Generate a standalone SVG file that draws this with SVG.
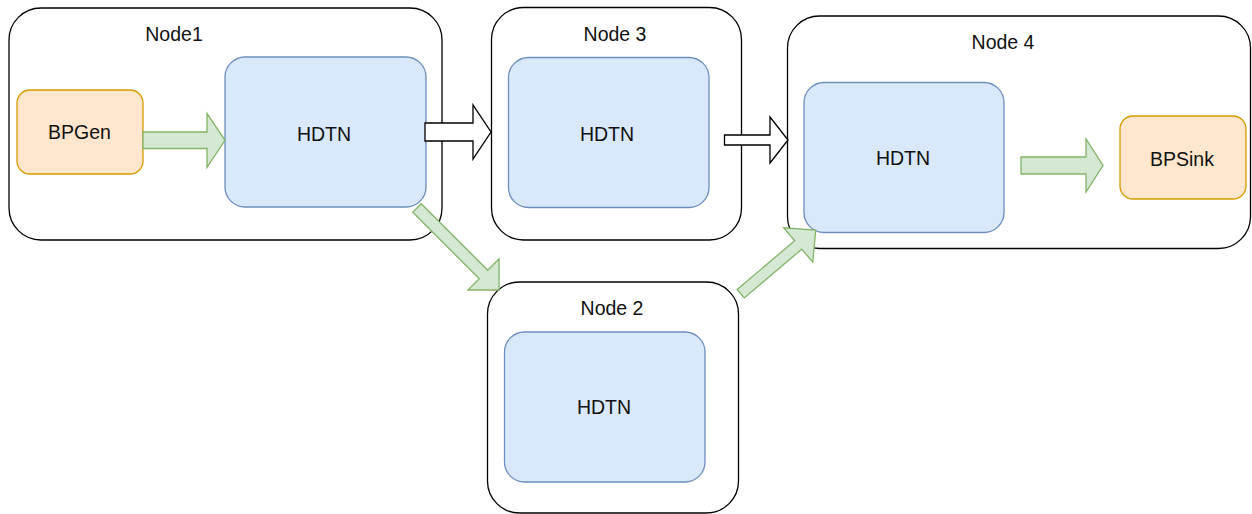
<svg xmlns="http://www.w3.org/2000/svg" width="1252" height="514" viewBox="0 0 1252 514">
<style>
.container{fill:#ffffff;stroke:#000000;stroke-width:1.3}
.hdtn{fill:#dae8fc;stroke:#6c8ebf;stroke-width:1.3}
.bp{fill:#ffe6cc;stroke:#d79b00;stroke-width:1.3}
.garrow{fill:#d5e8d4;stroke:#82b366;stroke-width:1.3;stroke-linejoin:miter}
.harrow{fill:#ffffff;stroke:#000000;stroke-width:1.3;stroke-linejoin:miter}
text{font-family:"Liberation Sans",Arial,Helvetica,sans-serif;font-size:19.5px;fill:#111111;text-anchor:middle}
</style>
<rect width="1252" height="514" fill="#ffffff"/>
<g id="node1">
  <rect class="container" x="9" y="8" width="433" height="232" rx="32" ry="32"/>
  <text x="174" y="40.5">Node1</text>
</g>
<g id="node3">
  <rect class="container" x="491.5" y="7.5" width="250" height="232.5" rx="32" ry="32"/>
  <text x="615" y="40.5">Node 3</text>
</g>
<g id="node4">
  <rect class="container" x="787.5" y="16" width="463" height="232.5" rx="32" ry="32"/>
  <text x="1003" y="48.5">Node 4</text>
</g>
<g id="node2">
  <rect class="container" x="487.5" y="282" width="251" height="231" rx="32" ry="32"/>
  <text x="612" y="314.5">Node 2</text>
</g>
<g id="bpgen">
  <rect class="bp" x="17" y="90" width="126" height="84" rx="13" ry="13"/>
  <text x="79.5" y="139">BPGen</text>
</g>
<g id="hdtn1">
  <rect class="hdtn" x="225" y="57" width="201" height="150" rx="20" ry="20"/>
  <text x="324" y="140.5">HDTN</text>
</g>
<g id="hdtn3">
  <rect class="hdtn" x="508.5" y="57.5" width="200.5" height="150" rx="20" ry="20"/>
  <text x="607" y="140.5">HDTN</text>
</g>
<g id="hdtn4">
  <rect class="hdtn" x="804" y="82.5" width="200" height="150" rx="20" ry="20"/>
  <text x="903" y="165">HDTN</text>
</g>
<g id="hdtn2">
  <rect class="hdtn" x="504.5" y="332" width="200.5" height="150" rx="20" ry="20"/>
  <text x="604" y="414">HDTN</text>
</g>
<g id="bpsink">
  <rect class="bp" x="1120" y="116" width="126" height="83" rx="13" ry="13"/>
  <text x="1182" y="165.5">BPSink</text>
</g>
<g id="connectors">
  <polygon class="garrow" points="143,132 207,132 207,113.3 225,140.3 207,167.3 207,148.5 143,148.5"/>
  <polygon class="harrow" points="425,123 473,123 473,105 491,132 473,159 473,141 425,141"/>
  <polygon class="harrow" points="724.5,135 770,135 770,117 788,140 770,163 770,145 724.5,145"/>
  <polygon class="garrow" points="1021,157 1086,157 1086,139 1103,165.5 1086,192 1086,174 1021,174"/>
  <polygon class="garrow" transform="translate(417,208) rotate(45)" points="0,-6 94,-6 94,-22 116,0 94,22 94,6 0,6"/>
  <polygon class="garrow" transform="translate(740.7,293.7) rotate(-40.3)" points="0,-5.5 75.4,-5.5 75.4,-22.5 98.4,0 75.4,22.5 75.4,5.5 0,5.5"/>
</g>
</svg>
